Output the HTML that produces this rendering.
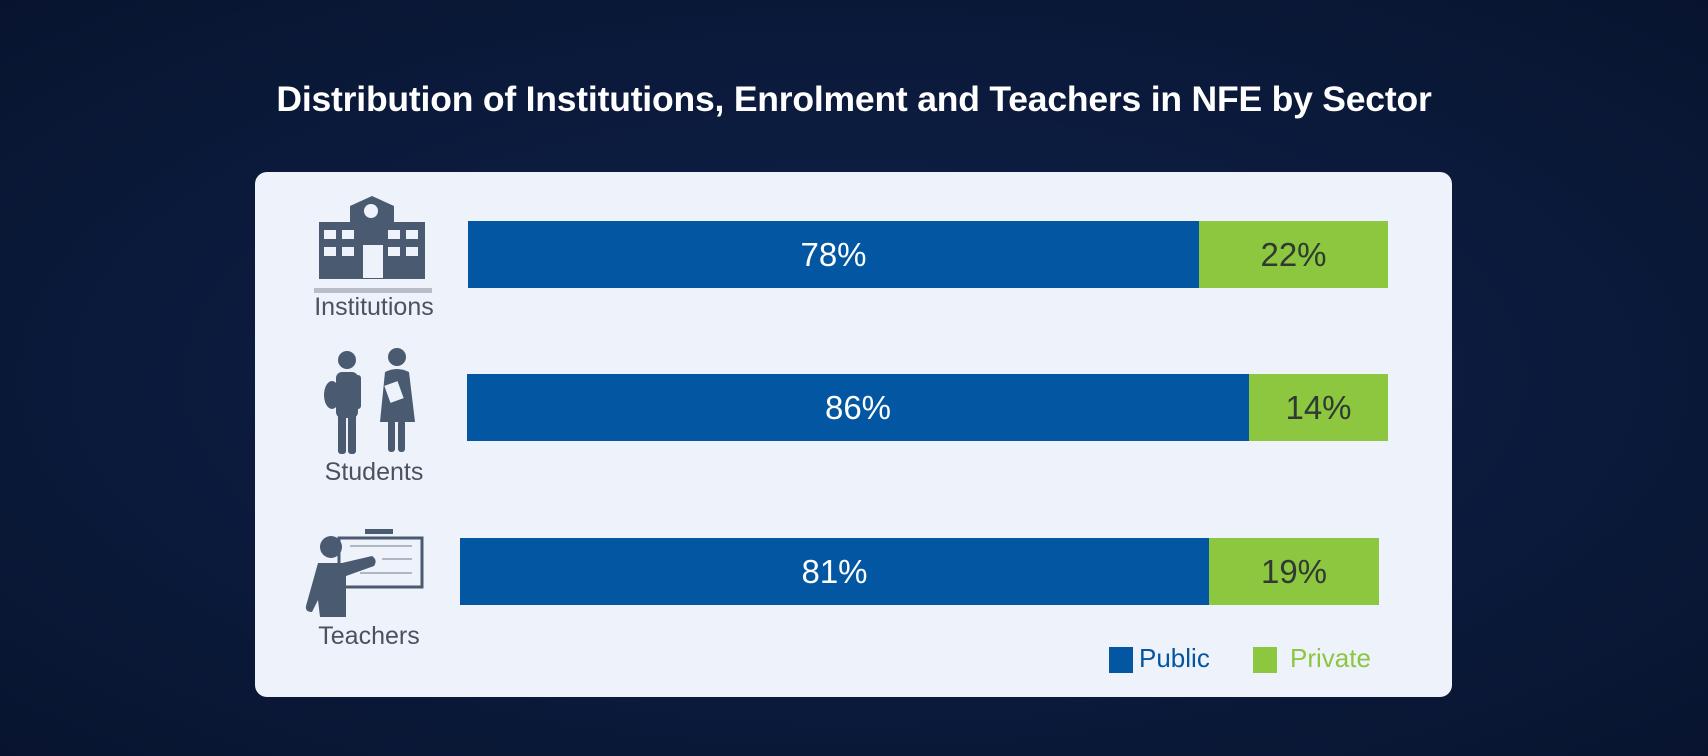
<!DOCTYPE html>
<html><head><meta charset="utf-8"><style>
body{margin:0;width:1708px;height:756px;overflow:hidden;background:radial-gradient(ellipse at 50% 50%,#10224a 0%,#0b1a3b 60%,#08142f 100%);font-family:"Liberation Sans",sans-serif;position:relative}
.t{position:absolute;left:0;width:1708px;top:79px;text-align:center;color:#fff;font-weight:bold;font-size:35.5px;letter-spacing:-0.2px}
.p{position:absolute;left:255px;top:172px;width:1197px;height:525px;background:#eef3fb;border-radius:12px}
.b{position:absolute;height:67px;display:flex}
.b div{display:flex;align-items:center;justify-content:center;font-size:33px}
.pu{background:#0356a1;color:#fff}.pr{background:#8dc63f;color:#2f3a33}
.l{position:absolute;color:#4a525c;font-size:25px;text-align:center;width:160px}
.lg{position:absolute;top:647px;width:24px;height:26px}
.lt{position:absolute;top:643px;font-size:26px}
</style></head><body>
<div class="t">Distribution of Institutions, Enrolment and Teachers in NFE by Sector</div>
<div class="p"></div>
<div class="b" style="left:468px;top:221px;width:920px"><div class="pu" style="width:731px">78%</div><div class="pr" style="flex:1">22%</div></div>
<div class="b" style="left:467px;top:374px;width:921px"><div class="pu" style="width:782px">86%</div><div class="pr" style="flex:1">14%</div></div>
<div class="b" style="left:460px;top:538px;width:919px"><div class="pu" style="width:749px">81%</div><div class="pr" style="flex:1">19%</div></div>
<div class="l" style="left:294px;top:293px">Institutions</div>
<div class="l" style="left:294px;top:458px">Students</div>
<div class="l" style="left:289px;top:622px">Teachers</div>
<svg width="1708" height="756" style="position:absolute;left:0;top:0">
<g fill="#4a5a70">
<rect x="319" y="222" width="106" height="57"/>
<polygon points="350,206 372,196 394,206 394,222 350,222"/>
</g>
<circle cx="371" cy="211" r="7" fill="#eef3fb"/>
<g fill="#eef3fb">
<rect x="324" y="230" width="12" height="9"/><rect x="342" y="230" width="12" height="9"/>
<rect x="388" y="230" width="12" height="9"/><rect x="406" y="230" width="12" height="9"/>
<rect x="324" y="247" width="12" height="9"/><rect x="342" y="247" width="12" height="9"/>
<rect x="388" y="247" width="12" height="9"/><rect x="406" y="247" width="12" height="9"/>
<rect x="363" y="245" width="20" height="33"/>
</g>
<rect x="314" y="288" width="118" height="5" fill="#b8bec6"/>
<g fill="#4a5a70">
<circle cx="347" cy="360" r="9"/>
<rect x="336" y="372" width="22" height="46" rx="6"/>
<rect x="338" y="410" width="8" height="44" rx="3"/><rect x="348" y="410" width="8" height="44" rx="3"/>
<rect x="355" y="375" width="6" height="34" rx="3"/>
<ellipse cx="332" cy="395" rx="8" ry="14"/>
<circle cx="397" cy="357" r="9"/>
<path d="M385 372 Q397 366 409 372 L415 422 L380 422 Z"/>
<rect x="388" y="420" width="7" height="32" rx="3"/><rect x="398" y="420" width="7" height="32" rx="3"/>
</g>
<rect x="387" y="383" width="14" height="18" fill="#eef3fb" transform="rotate(-20 394 392)"/>
<rect x="339" y="538" width="83" height="49" fill="none" stroke="#4a5a70" stroke-width="3"/>
<rect x="365" y="529" width="28" height="5" fill="#4a5a70"/>
<g stroke="#9aa4b0" stroke-width="1.5"><line x1="350" y1="546" x2="412" y2="546"/><line x1="382" y1="559" x2="412" y2="559"/><line x1="360" y1="573" x2="412" y2="573"/></g>
<g fill="#4a5a70">
<circle cx="331" cy="547" r="11"/>
<path d="M318 563 L342 563 L372 556 Q378 560 374 566 L346 576 L346 617 L320 617 L318 600 L312 612 Q305 612 306 606 Z"/>
</g>
</svg>
<div class="lg" style="left:1109px;background:#0356a1"></div><div class="lt" style="left:1139px;color:#0356a1">Public</div>
<div class="lg" style="left:1253px;background:#8dc63f"></div><div class="lt" style="left:1290px;color:#8dc63f">Private</div>
</body></html>
